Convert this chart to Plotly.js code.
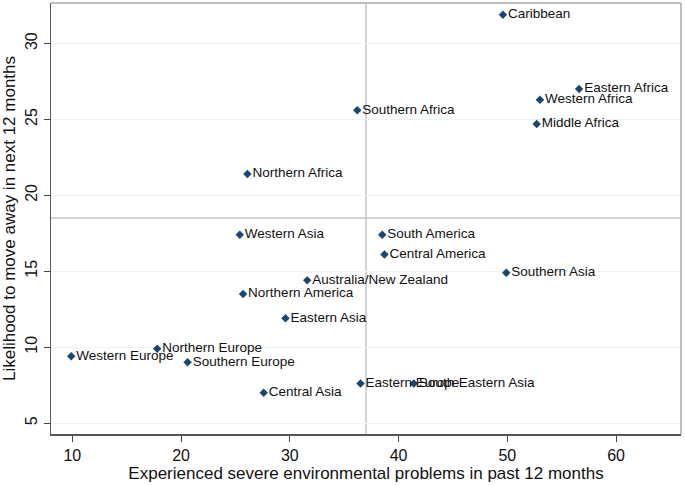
<!DOCTYPE html>
<html>
<head>
<meta charset="utf-8">
<script src="https://cdn.plot.ly/plotly-3.0.1.min.js"></script>
<style>html,body{margin:0;padding:0;background:#fff;}#chart{width:685px;height:486px;}</style>
</head>
<body>
<div id="chart"></div>
<script>
const regions = ["Caribbean","Eastern Africa","Western Africa","Middle Africa","Southern Africa","Northern Africa","Western Asia","South America","Central America","Southern Asia","Australia/New Zealand","Northern America","Eastern Asia","Northern Europe","Western Europe","Southern Europe","Central Asia","Eastern Europe","South-Eastern Asia"];
const envProblems = [49.6,56.6,53.0,52.7,36.2,26.1,25.4,38.5,38.7,49.9,31.6,25.7,29.6,17.8,9.9,20.6,27.6,36.5,41.4];
const likelihoodMove = [31.9,27.0,26.3,24.7,25.6,21.4,17.4,17.4,16.1,14.9,14.4,13.5,11.9,9.9,9.4,9.0,7.0,7.6,7.6];
const meanX = 37.0;
const meanY = 18.5;
const xTicks = [10,20,30,40,50,60];
const yTicks = [5,10,15,20,25,30];

const font = "Liberation Sans, Arial, Helvetica, sans-serif";

const trace = {
  type: "scatter",
  mode: "markers+text",
  x: envProblems,
  y: likelihoodMove,
  text: regions,
  textposition: "middle right",
  textfont: {family: font, size: 13.5, color: "#111"},
  marker: {symbol: "diamond", size: 6.5, color: "#1a476f"},
  cliponaxis: false,
  hoverinfo: "text"
};

const layout = {
  width: 685, height: 486,
  margin: {l: 51, r: 4, t: 3, b: 52},
  paper_bgcolor: "#fff", plot_bgcolor: "#fff",
  showlegend: false,
  font: {family: font, color: "#111"},
  xaxis: {
    range: [8.04, 65.97],
    tickvals: xTicks,
    ticks: "outside", ticklen: 6, tickwidth: 1, tickcolor: "#444",
    showgrid: false, zeroline: false,
    showline: true, linecolor: "#555", linewidth: 1.5,
    tickfont: {size: 16, color: "#111"},
    title: {text: "Experienced severe environmental problems in past 12 months", font: {size: 17, color: "#111"}, standoff: 3}
  },
  yaxis: {
    range: [4.28, 32.67],
    tickvals: yTicks,
    tickangle: -90,
    ticks: "outside", ticklen: 6, tickwidth: 1, tickcolor: "#444",
    showgrid: true, gridcolor: "#eaf2f3", gridwidth: 1,
    zeroline: false,
    showline: true, linecolor: "#555", linewidth: 1.5,
    tickfont: {size: 16, color: "#111"},
    title: {text: "Likelihood to move away in next 12 months", font: {size: 17, color: "#111"}, standoff: 4}
  },
  shapes: [
    {type: "line", xref: "x", yref: "paper", x0: meanX, x1: meanX, y0: 0, y1: 1, line: {color: "#c4c4c4", width: 1.5}, layer: "below"},
    {type: "line", xref: "paper", yref: "y", x0: 0, x1: 1, y0: meanY, y1: meanY, line: {color: "#c4c4c4", width: 1.5}, layer: "below"},
    {type: "line", xref: "paper", yref: "paper", x0: 0, x1: 1, y0: 1, y1: 1, line: {color: "#aaa", width: 1.5}},
    {type: "line", xref: "paper", yref: "paper", x0: 1, x1: 1, y0: 0, y1: 1, line: {color: "#aaa", width: 1.5}}
  ]
};

Plotly.newPlot("chart", [trace], layout, {displayModeBar: false, staticPlot: true});
</script>
</body>
</html>
